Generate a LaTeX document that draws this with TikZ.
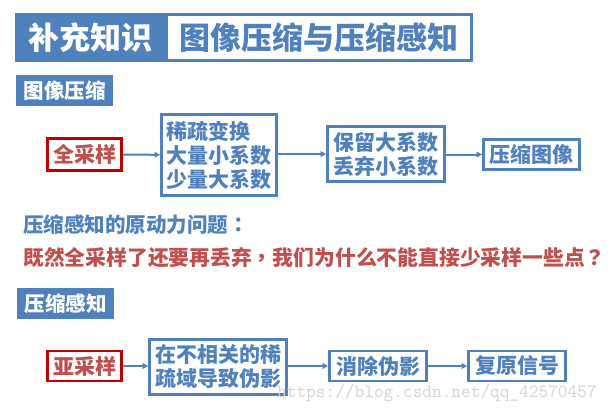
\documentclass[tikz,border=0pt]{standalone}
\usepackage{fontspec}
\setmainfont{Noto Sans CJK SC}
\newfontfamily\punctfont{Noto Sans CJK TC}
\newcommand{\pu}[1]{{\punctfont\bfseries #1}}
\usetikzlibrary{arrows.meta}
\definecolor{ublue}{HTML}{4F81BD}
\definecolor{ured}{HTML}{C0504D}
\definecolor{dred}{HTML}{C00000}
\definecolor{wmgrey}{HTML}{D4D4D4}
\tikzset{
  bluebox/.style={draw=ublue, line width=2.6pt, fill=white, text=ublue, inner sep=0pt,
    font=\fontsize{21}{24}\selectfont\bfseries},
  redbox/.style={draw=dred, line width=2.6pt, fill=white, text=ured, inner sep=0pt,
    font=\fontsize{21}{24}\selectfont\bfseries},
  labelbox/.style={fill=ublue, text=white, inner sep=0pt,
    font=\fontsize{20.5}{24}\selectfont\bfseries},
  flow/.style={draw=ublue, line width=2pt, -{Triangle[length=5.5pt,width=5.5pt]}},
}
\begin{document}
\begin{tikzpicture}[x=1pt,y=-1pt]
\useasboundingbox[fill=white] (0,0) rectangle (616,413);
% title
\node[fill=ublue, text=white, inner sep=0pt, minimum width=151pt, minimum height=49pt,
  font=\fontsize{31}{34}\selectfont\bfseries] (tl) at (90.5,37.5) {补充知识};
\node[draw=ublue, line width=3pt, fill=white, text=ublue, inner sep=0pt,
  minimum width=305pt, minimum height=46pt, font=\fontsize{31}{34}\selectfont\bfseries]
  (tr) at (319,37.5) {图像压缩与压缩感知};
% section 1
\node[labelbox, minimum width=97pt, minimum height=31pt] (lab1) at (64.5,90.5) {图像压缩};
\node[redbox, minimum width=74pt, minimum height=32pt] (n1) at (84.5,154.5) {全采样};
\node[bluebox, minimum width=115pt, minimum height=81pt, align=left] (n2) at (219,155)
  {稀疏变换\\大量小系数\\少量大系数};
\node[bluebox, minimum width=117pt, minimum height=55pt, align=left] (n3) at (386,154)
  {保留大系数\\丢弃小系数};
\node[bluebox, minimum width=96pt, minimum height=30pt] (n4) at (531.5,154.5) {压缩图像};
\draw[flow] (n1) -- (n2);
\draw[flow] (n2.east |- n3) -- (n3);
\draw[flow] (n3.east |- n4) -- (n4);
% question
\node[anchor=west, text=ublue, inner sep=0pt, font=\fontsize{20.5}{24}\selectfont\bfseries]
  (q1) at (23,225) {压缩感知的原动力问题\pu{：}};
\node[anchor=west, text=ured, inner sep=0pt, font=\fontsize{20.8}{24}\selectfont\bfseries]
  (q2) at (23,258) {既然全采样了还要再丢弃\pu{，}我们为什么不能直接少采样一些点\pu{？}};
% section 2
\node[labelbox, minimum width=97pt, minimum height=31pt] (lab2) at (65.5,303.5) {压缩感知};
\node[redbox, minimum width=74pt, minimum height=30pt] (m1) at (84.5,366) {亚采样};
\node[bluebox, minimum width=137pt, minimum height=55pt, align=left] (m2) at (218,367)
  {在不相关的稀\\疏域导致伪影};
\node[bluebox, minimum width=97pt, minimum height=30pt] (m3) at (378,366) {消除伪影};
\node[bluebox, minimum width=97pt, minimum height=30pt] (m4) at (517,366) {复原信号};
\draw[flow] (m1) -- (m1 -| m2.west);
\draw[flow] (m2.east |- m3) -- (m3);
\draw[flow] (m3) -- (m4);
% watermark
\node[anchor=west, text=wmgrey, inner sep=0pt, font=\fontsize{18.8}{20}\ttfamily]
  (wm) at (277,393) {https://blog.csdn.net/qq\_42570457};
\end{tikzpicture}
\end{document}
